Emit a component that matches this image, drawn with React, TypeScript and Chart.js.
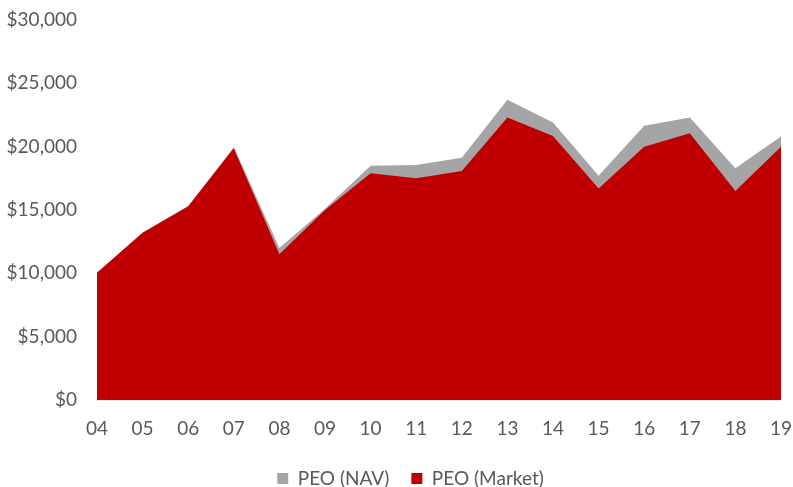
import React, { useEffect, useRef } from "react";
import { Chart, registerables } from "chart.js";

Chart.register(...registerables);

const years = ["04", "05", "06", "07", "08", "09", "10", "11", "12", "13", "14", "15", "16", "17", "18", "19"];
const navValues = [10050, 13200, 15300, 19950, 12000, 15100, 18500, 18550, 19130, 23700, 21900, 17700, 21650, 22300, 18300, 20800];
const marketValues = [10050, 13200, 15300, 19870, 11500, 15000, 17900, 17500, 18080, 22300, 20850, 16700, 20000, 21050, 16500, 20000];
const yTicks = [0, 5000, 10000, 15000, 20000, 25000, 30000];

const FONT = "Lato, 'Open Sans', sans-serif";
const TEXT = "#595959";

const legendShift = {
  id: "legendShift",
  afterLayout(chart: any) {
    const lg = chart.legend;
    if (lg) {
      lg.left += 20;
      lg.right += 20;
    }
  },
};

export default function App() {
  const ref = useRef<HTMLCanvasElement | null>(null);

  useEffect(() => {
    document.body.style.margin = "0";
    const canvas = ref.current;
    if (!canvas) return;
    const chart = new Chart(canvas, {
      type: "line",
      data: {
        labels: years,
        datasets: [
          {
            label: "PEO (NAV)",
            data: navValues,
            backgroundColor: "#A5A5A5",
            borderColor: "#A5A5A5",
            borderWidth: 0,
            pointRadius: 0,
            fill: "origin",
            tension: 0,
            order: 1,
          },
          {
            label: "PEO (Market)",
            data: marketValues,
            backgroundColor: "#C00000",
            borderColor: "#C00000",
            borderWidth: 0,
            pointRadius: 0,
            fill: "origin",
            tension: 0,
            order: 0,
          },
        ],
      },
      plugins: [legendShift],
      options: {
        responsive: false,
        animation: false,
        layout: { padding: { top: 20, right: 12, left: 0, bottom: -11 } },
        plugins: {
          tooltip: { enabled: false },
          legend: {
            position: "bottom",
            labels: {
              boxWidth: 11,
              boxHeight: 11,
              padding: 22,
              color: TEXT,
              font: { family: FONT, size: 19 },
              sort: (a: any, b: any) => a.datasetIndex - b.datasetIndex,
            },
          },
        },
        scales: {
          x: {
            offset: false,
            grid: { display: false, drawTicks: false },
            border: { display: true, color: "#D9D9D9", width: 1.5 },
            ticks: {
              color: TEXT,
              padding: 17,
              font: { family: FONT, size: 19 },
              maxRotation: 0,
              autoSkip: false,
            },
            afterFit: (s: any) => {
              s.height = 47;
              s.paddingLeft = 0;
              s.paddingRight = 0;
            },
          },
          y: {
            min: 0,
            max: 30000,
            grid: { display: false, drawTicks: false },
            border: { display: false },
            afterBuildTicks: (s: any) => {
              s.ticks = yTicks.map((v) => ({ value: v }));
            },
            ticks: {
              color: TEXT,
              padding: 20,
              font: { family: FONT, size: 19 },
              callback: (v: any) => "$" + Number(v).toLocaleString("en-US"),
            },
            afterFit: (s: any) => {
              s.width = 97;
              s.paddingTop = 0;
            },
          },
        },
      },
    });
    return () => chart.destroy();
  }, []);

  return (
    <div style={{ width: 793, height: 487, background: "#fff" }}>
      <canvas ref={ref} width={793} height={487} style={{ display: "block" }} />
    </div>
  );
}
